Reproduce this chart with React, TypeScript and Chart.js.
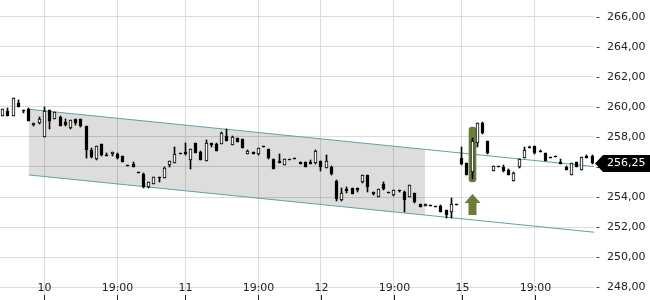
import React, { useEffect, useRef } from 'react';
import { Chart, registerables } from 'chart.js';

Chart.register(...registerables);

// Candle values (one entry per bar, left to right)
const opens = [
  259.42, 259.75, 259.38, 260.25, 259.80, 259.87, 258.78, 258.91, 258.02, 259.80,
  259.20, 259.35, 258.98, 258.58, 259.18, 259.18, 258.73, 257.13, 256.51, 257.51,
  256.76, 256.84, 256.84, 256.71, 256.05, 256.20, 255.60, 255.55, 254.64, 254.89,
  255.31, 255.29, 256.13, 256.29, 256.87, 256.98, 256.47, 257.60, 257.02, 256.42,
  257.58, 257.53, 257.53, 258.07, 257.47, 257.91, 257.85, 256.89, 256.98, 256.84,
  257.35, 257.18, 256.51, 256.42, 256.15, 256.47, 256.51, 256.33, 256.33, 256.33,
  256.24, 256.40, 255.95, 256.02, 255.09, 253.78, 254.51, 254.58, 254.58, 254.98,
  255.47, 254.33, 254.02, 254.87, 254.29, 254.11, 254.47, 254.35, 254.02, 254.24,
  253.53, 253.40, 253.42, 253.35, 253.42, 253.13, 252.98, 253.47, 256.58, 256.24,
  255.67, 257.58, 258.91, 257.73, 255.73, 256.00, 256.03, 255.83, 255.08, 255.97,
  256.63, 257.23, 257.40, 256.97, 256.91, 256.62, 256.67, 256.33, 256.03, 255.47,
  256.33, 255.80, 256.72, 256.72,
];
const highs = [
  259.88, 259.93, 260.60, 260.47, 259.82, 259.90, 258.93, 259.35, 260.02, 259.82,
  259.67, 259.37, 259.18, 259.15, 259.20, 259.20, 258.75, 257.29, 257.42, 257.53,
  256.93, 257.00, 256.91, 256.73, 256.05, 256.35, 255.60, 255.57, 255.00, 255.35,
  255.33, 255.97, 256.40, 257.33, 256.87, 257.60, 257.22, 257.62, 257.04, 257.80,
  257.60, 257.62, 258.31, 258.51, 258.04, 257.93, 257.87, 257.11, 257.00, 257.29,
  257.42, 257.20, 256.53, 256.87, 256.53, 256.47, 256.51, 256.35, 256.35, 256.47,
  257.13, 256.42, 256.80, 256.04, 255.11, 254.58, 254.64, 254.60, 254.60, 255.49,
  255.49, 254.35, 254.53, 255.02, 254.29, 254.49, 254.49, 254.40, 254.82, 254.26,
  253.55, 253.57, 253.42, 253.35, 253.44, 253.15, 253.91, 253.47, 257.35, 256.26,
  257.90, 258.93, 259.02, 257.75, 256.09, 256.00, 256.13, 255.85, 255.65, 256.53,
  257.31, 257.40, 257.42, 257.13, 256.93, 256.62, 256.67, 256.50, 256.05, 256.29,
  256.35, 256.67, 256.80, 256.83,
];
const lows = [
  259.40, 259.36, 259.36, 259.96, 259.58, 259.07, 258.76, 258.89, 258.00, 258.51,
  259.18, 258.73, 258.76, 258.56, 258.80, 258.69, 256.62, 256.62, 256.49, 256.76,
  256.72, 256.71, 256.56, 256.33, 256.05, 256.00, 255.60, 254.62, 254.62, 254.87,
  255.02, 255.27, 256.02, 256.27, 256.87, 256.82, 255.85, 256.93, 256.45, 256.40,
  257.35, 257.07, 257.51, 257.73, 257.45, 257.67, 257.23, 256.87, 256.85, 256.82,
  257.35, 256.56, 255.87, 256.27, 256.13, 256.47, 256.51, 256.20, 256.01, 256.18,
  256.22, 255.75, 255.93, 255.49, 253.73, 253.76, 254.29, 254.20, 254.36, 254.96,
  254.36, 254.16, 254.00, 254.49, 254.29, 254.09, 254.36, 253.00, 254.00, 253.62,
  253.33, 253.38, 253.42, 253.35, 253.00, 252.58, 252.58, 253.47, 256.16, 255.45,
  255.20, 257.35, 258.22, 256.89, 255.71, 256.00, 255.68, 255.45, 255.06, 255.95,
  256.61, 257.23, 256.89, 256.97, 256.39, 256.62, 256.67, 256.17, 255.77, 255.45,
  256.01, 255.78, 256.58, 256.23,
];
const closes = [
  259.85, 259.38, 260.58, 259.98, 259.71, 259.09, 258.91, 259.18, 259.75, 259.09,
  259.65, 258.75, 258.78, 259.13, 258.95, 258.71, 257.13, 256.64, 257.40, 256.78,
  256.74, 256.98, 256.58, 256.35, 256.05, 256.02, 255.60, 254.64, 254.98, 255.33,
  255.24, 255.95, 256.38, 256.84, 256.87, 256.84, 257.20, 256.95, 256.47, 257.58,
  257.47, 257.09, 258.29, 257.75, 258.02, 257.69, 257.25, 257.09, 256.87, 257.27,
  257.35, 256.58, 255.89, 256.29, 256.51, 256.47, 256.51, 256.22, 256.03, 256.20,
  257.07, 256.02, 256.40, 255.51, 253.84, 254.29, 254.38, 254.22, 254.47, 255.47,
  254.69, 254.18, 254.51, 254.51, 254.29, 254.47, 254.38, 253.80, 254.80, 253.64,
  253.35, 253.55, 253.42, 253.35, 253.02, 252.80, 253.51, 253.47, 256.18, 255.47,
  257.73, 258.91, 258.24, 256.91, 256.07, 256.00, 255.70, 255.47, 255.63, 256.51,
  257.13, 257.23, 256.91, 256.97, 256.41, 256.62, 256.67, 256.19, 255.79, 256.27,
  256.03, 256.65, 256.60, 256.25,
];

// X axis tick positions (bar index) and their labels
const xTickIndex = [8, 22, 35, 49, 61, 75, 88, 102];
const xTickLabel = ['10', '19:00', '11', '19:00', '12', '19:00', '15', '19:00'];

// Trend channel (bar index -> price); shade covers the first two points
const channelX = [5, 81, 113.35];
const channelUpper = [259.84, 257.17, 256.03];
const channelLower = [255.47, 252.8, 251.66];

// Buy signal marker
const signalIndex = 90;
const signalBar = [255.0, 258.66];
const signalArrow = [252.8, 253.58, 254.18]; // base, neck, tip

const Y_MIN = 247.15;
const Y_MAX = 267.11;
const X_MIN = -0.5;
const X_MAX = 113.35;

const OLIVE = '#6a7d3a';
const TEAL = '#5fa2a6';
const FONT = "'DejaVu Sans'";

const fmt = (v: number) => v.toFixed(2).replace('.', ',');

export default function App() {
  const ref = useRef<HTMLCanvasElement>(null);

  useEffect(() => {
    document.body.style.margin = '0';
    document.body.style.overflow = 'hidden';
    const canvas = ref.current!;

    const idx = opens.map((_, i) => i);
    const bodies = idx.map((i) => ({ x: i, y: [opens[i], closes[i]] }));
    const wicks = idx.map((i) => ({ x: i, y: [lows[i], highs[i]] }));

    const snapPlugin = {
      id: 'snapBars',
      beforeDatasetsDraw(chart: any) {
        chart.data.datasets.forEach((ds: any, di: number) => {
          const meta = chart.getDatasetMeta(di);
          if (meta.type !== 'bar') return;
          meta.data.forEach((el: any) => {
            el.x = Math.floor(el.x) + 0.5;
            let y = Math.round(el.y);
            const b = Math.round(el.base);
            if (Math.abs(b - y) < 1) y = b - 1;
            el.y = y;
            el.base = b;
          });
        });
      },
    };

    const overlayPlugin = {
      id: 'overlay',
      afterDatasetsDraw(chart: any) {
        const { ctx, scales } = chart;
        const xs = scales.x;
        const ys = scales.y;
        // signal arrow
        const cx = Math.floor(xs.getPixelForValue(signalIndex)) + 0.5;
        const yBase = Math.round(ys.getPixelForValue(signalArrow[0]));
        const yNeck = Math.round(ys.getPixelForValue(signalArrow[1]));
        const yTip = Math.round(ys.getPixelForValue(signalArrow[2]));
        ctx.save();
        ctx.fillStyle = OLIVE;
        ctx.beginPath();
        ctx.moveTo(cx, yTip);
        ctx.lineTo(cx + 8, yNeck);
        ctx.lineTo(cx + 4, yNeck);
        ctx.lineTo(cx + 4, yBase);
        ctx.lineTo(cx - 4, yBase);
        ctx.lineTo(cx - 4, yNeck);
        ctx.lineTo(cx - 8, yNeck);
        ctx.closePath();
        ctx.fill();
        ctx.restore();
      },
      afterDraw(chart: any) {
        const { ctx, scales, chartArea } = chart;
        const xs = scales.x;
        const ys = scales.y;
        ctx.save();
        // x labels inside the plot + tick marks
        ctx.font = `11px ${FONT}`;
        ctx.fillStyle = '#222';
        ctx.textAlign = 'center';
        ctx.textBaseline = 'middle';
        xTickIndex.forEach((v, k) => {
          const px = Math.round(xs.getPixelForValue(v));
          ctx.fillText(xTickLabel[k], px + 0.5, 288);
          ctx.fillRect(px, 295, 1, 5);
        });
        // last price label
        const last = closes[closes.length - 1];
        const py = Math.round(ys.getPixelForValue(last)) + 0.5;
        const x0 = chartArea.right + 1;
        ctx.fillStyle = '#000';
        ctx.beginPath();
        ctx.moveTo(x0, py);
        ctx.lineTo(x0 + 8, py - 8.5);
        ctx.lineTo(650, py - 8.5);
        ctx.lineTo(650, py + 8.5);
        ctx.lineTo(x0 + 8, py + 8.5);
        ctx.closePath();
        ctx.fill();
        ctx.fillStyle = '#fff';
        ctx.textAlign = 'left';
        ctx.fillText(fmt(last), x0 + 12, py);
        ctx.restore();
      },
    };

    Chart.defaults.font.family = FONT;
    Chart.defaults.font.size = 11;

    const chart = new Chart(canvas, {
      type: 'bar',
      data: {
        datasets: [
          {
            type: 'bar',
            label: 'body',
            data: bodies as any,
            order: 1,
            grouped: false,
            barThickness: 3,
            minBarLength: 1,
            borderWidth: 1,
            borderColor: '#000',
            borderSkipped: false,
            backgroundColor: (c: any) => (closes[c.dataIndex] > opens[c.dataIndex] ? '#fff' : '#000'),
          } as any,
          {
            type: 'bar',
            label: 'wick',
            data: wicks as any,
            order: 2,
            grouped: false,
            barThickness: 1,
            minBarLength: 1,
            borderWidth: 0,
            backgroundColor: '#000',
          } as any,
          {
            type: 'bar',
            label: 'signal',
            data: [{ x: signalIndex, y: signalBar }] as any,
            order: 3,
            grouped: false,
            barThickness: 7,
            borderRadius: 3,
            borderSkipped: false,
            borderWidth: 0,
            backgroundColor: OLIVE,
          } as any,
          {
            type: 'line',
            label: 'upper',
            data: channelX.map((x, i) => ({ x, y: channelUpper[i] })),
            order: 4,
            borderColor: TEAL,
            borderWidth: 1,
            pointRadius: 0,
            fill: false,
          } as any,
          {
            type: 'line',
            label: 'lower',
            data: channelX.map((x, i) => ({ x, y: channelLower[i] })),
            order: 5,
            borderColor: TEAL,
            borderWidth: 1,
            pointRadius: 0,
            fill: false,
          } as any,
          {
            type: 'line',
            label: 'shadeTop',
            data: channelX.slice(0, 2).map((x, i) => ({ x, y: channelUpper[i] })),
            order: 6,
            borderWidth: 0,
            borderColor: 'rgba(0,0,0,0)',
            pointRadius: 0,
            fill: '+1',
            backgroundColor: 'rgba(0,0,0,0.135)',
          } as any,
          {
            type: 'line',
            label: 'shadeBottom',
            data: channelX.slice(0, 2).map((x, i) => ({ x, y: channelLower[i] })),
            order: 7,
            borderWidth: 0,
            borderColor: 'rgba(0,0,0,0)',
            pointRadius: 0,
            fill: false,
          } as any,
        ],
      },
      options: {
        responsive: false,
        animation: false,
        events: [],
        layout: { padding: 0 },
        plugins: { legend: { display: false }, tooltip: { enabled: false } },
        scales: {
          x: {
            type: 'linear',
            min: X_MIN,
            max: X_MAX,
            offset: false,
            grid: { color: '#dcdcdc', drawTicks: false, offset: false },
            border: { display: false },
            ticks: { display: false },
            afterBuildTicks: (s: any) => {
              s.ticks = xTickIndex.map((v) => ({ value: v }));
            },
          },
          y: {
            type: 'linear',
            position: 'right',
            min: Y_MIN,
            max: Y_MAX,
            grid: { color: '#dcdcdc', drawTicks: false },
            border: { display: false },
            ticks: {
              stepSize: 2,
              includeBounds: false,
              padding: 2,
              color: '#222',
              font: { size: 11, family: FONT },
              callback: (v: any) => '-  ' + fmt(Number(v)),
            },
            afterFit: (s: any) => {
              s.width = 56;
              s.paddingTop = 0;
              s.paddingBottom = 0;
            },
          },
        },
      } as any,
      plugins: [snapPlugin, overlayPlugin],
    });

    return () => chart.destroy();
  }, []);

  return (
    <div style={{ width: 650, height: 300 }}>
      <canvas ref={ref} width={650} height={300} style={{ display: 'block' }} />
    </div>
  );
}
